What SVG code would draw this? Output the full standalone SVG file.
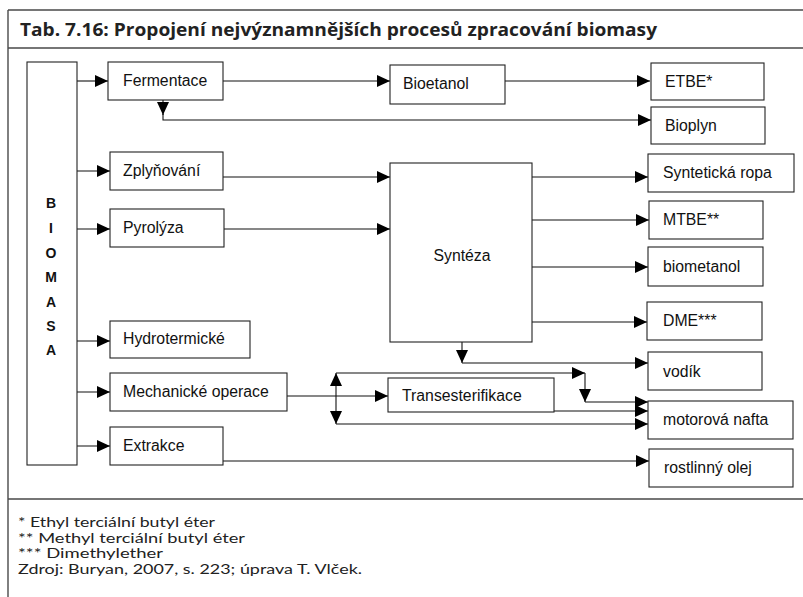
<svg xmlns="http://www.w3.org/2000/svg" width="803" height="597" viewBox="0 0 803 597">
<style>
.frame{stroke:#4a4a4a;stroke-width:1.4;fill:none}
.box{fill:#fff;stroke:#222;stroke-width:1.1}
.lbl{font-family:"Liberation Sans",Arial,sans-serif;font-size:15.8px;fill:#111}
.bio{font-family:"Liberation Sans",Arial,sans-serif;font-size:14px;font-weight:bold;fill:#111;text-anchor:middle}
.title{font-family:"Open Sans","Liberation Sans",sans-serif;font-size:18px;font-weight:bold;fill:#222}
.note{font-family:Lato,"Liberation Sans",sans-serif;font-size:12.9px;fill:#222}
.c{fill:none;stroke:#111;stroke-width:1.1}
.a{marker-end:url(#ah)}
</style>
<defs>
<marker id="ah" markerUnits="userSpaceOnUse" markerWidth="13" markerHeight="12" refX="13" refY="6" orient="auto">
<path d="M0,0 L13,6 L0,12 z" fill="#000"/>
</marker>
</defs>
<rect width="803" height="597" fill="#fff"/>
<g id="frame">
<path class="frame" d="M8,10 H803 M8,48 H803 M8,499 H803 M8,10 V597"/>
<text class="title" x="20" y="36" textLength="637" lengthAdjust="spacingAndGlyphs">Tab. 7.16: Propojení nejvýznamnějších procesů zpracování biomasy</text>
</g>
<g id="connectors">
<path class="c a" d="M77,81 H108"/>
<path class="c a" d="M77,171 H110"/>
<path class="c a" d="M77,229 H110"/>
<path class="c a" d="M77,341 H110"/>
<path class="c a" d="M77,392 H110"/>
<path class="c a" d="M77,446 H110"/>
<path class="c a" d="M223,81 H390"/>
<path class="c a" d="M505,81 H650"/>
<path class="c a" d="M163,100 V115"/>
<path class="c a" d="M163,114 V120 H651"/>
<path class="c a" d="M223,177 H390"/>
<path class="c a" d="M224,229 H390"/>
<path class="c a" d="M532,177 H648"/>
<path class="c a" d="M532,220 H649"/>
<path class="c a" d="M532,267 H648"/>
<path class="c a" d="M532,322 H647"/>
<path class="c a" d="M462,342 V363"/>
<path class="c a" d="M462,363 H648"/>
<path class="c a" d="M287,396 H388"/>
<path class="c a" d="M336,398 V373"/>
<path class="c a" d="M336,398 V424"/>
<path class="c a" d="M336,373 H585"/>
<path class="c a" d="M585,373 V402"/>
<path class="c a" d="M585,402 H648"/>
<path class="c a" d="M554,411 H648"/>
<path class="c a" d="M336,424 H648"/>
<path class="c a" d="M223,461 H649"/>
</g>
<g id="biomasa">
<rect class="box" x="27" y="62" width="50" height="403"/>
<text class="bio" x="51" y="208">B</text>
<text class="bio" x="51" y="233">I</text>
<text class="bio" x="51" y="258">O</text>
<text class="bio" x="51" y="282">M</text>
<text class="bio" x="51" y="307">A</text>
<text class="bio" x="51" y="331">S</text>
<text class="bio" x="51" y="355">A</text>
</g>
<g id="fermentace"><rect class="box" x="108" y="62" width="115" height="38"/><text class="lbl" x="123" y="86">Fermentace</text></g>
<g id="bioetanol"><rect class="box" x="390" y="65" width="115" height="39"/><text class="lbl" x="403" y="89">Bioetanol</text></g>
<g id="etbe"><rect class="box" x="651" y="63" width="113" height="37"/><text class="lbl" x="665" y="87">ETBE*</text></g>
<g id="bioplyn"><rect class="box" x="651" y="107" width="114" height="37"/><text class="lbl" x="665" y="131">Bioplyn</text></g>
<g id="zplynovani"><rect class="box" x="110" y="152" width="113" height="38"/><text class="lbl" x="123" y="176">Zplyňování</text></g>
<g id="pyrolyza"><rect class="box" x="110" y="209" width="114" height="38"/><text class="lbl" x="123" y="233">Pyrolýza</text></g>
<g id="synteza"><rect class="box" x="390" y="163" width="142" height="179"/><text class="lbl" x="462" y="261" text-anchor="middle">Syntéza</text></g>
<g id="synteticka-ropa"><rect class="box" x="648" y="154" width="146" height="38"/><text class="lbl" x="663" y="178">Syntetická ropa</text></g>
<g id="mtbe"><rect class="box" x="649" y="201" width="114" height="38"/><text class="lbl" x="663" y="225">MTBE**</text></g>
<g id="biometanol"><rect class="box" x="648" y="247" width="115" height="39"/><text class="lbl" x="663" y="272">biometanol</text></g>
<g id="dme"><rect class="box" x="647" y="302" width="115" height="38"/><text class="lbl" x="663" y="326">DME***</text></g>
<g id="hydrotermicke"><rect class="box" x="110" y="321" width="140" height="37"/><text class="lbl" x="123" y="344">Hydrotermické</text></g>
<g id="vodik"><rect class="box" x="648" y="352" width="114" height="38"/><text class="lbl" x="663" y="377">vodík</text></g>
<g id="mechanicke-operace"><rect class="box" x="110" y="373" width="177" height="38"/><text class="lbl" x="123" y="397">Mechanické operace</text></g>
<g id="transesterifikace"><rect class="box" x="388" y="378" width="166" height="34"/><text class="lbl" x="402" y="401">Transesterifikace</text></g>
<g id="motorova-nafta"><rect class="box" x="648" y="401" width="145" height="38"/><text class="lbl" x="663" y="425">motorová nafta</text></g>
<g id="extrakce"><rect class="box" x="110" y="427" width="113" height="38"/><text class="lbl" x="123" y="451">Extrakce</text></g>
<g id="rostlinny-olej"><rect class="box" x="649" y="449" width="144" height="38"/><text class="lbl" x="664" y="473">rostlinný olej</text></g>
<g id="notes">
<text class="note" x="18" y="527" textLength="197" lengthAdjust="spacingAndGlyphs">* Ethyl terciální butyl éter</text>
<text class="note" x="18" y="543" textLength="227" lengthAdjust="spacingAndGlyphs">** Methyl terciální butyl éter</text>
<text class="note" x="18" y="558" textLength="145" lengthAdjust="spacingAndGlyphs">*** Dimethylether</text>
<text class="note" x="18" y="574" textLength="344" lengthAdjust="spacingAndGlyphs">Zdroj: Buryan, 2007, s. 223; úprava T. Vlček.</text>
</g>
</svg>
